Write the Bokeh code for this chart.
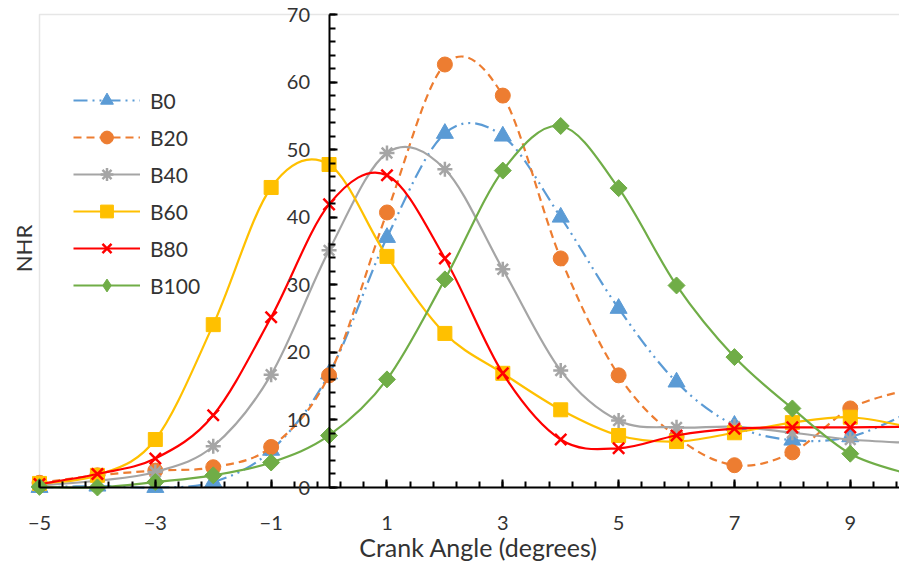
import numpy as np
from bokeh.plotting import figure
from bokeh.models import (Range1d, FixedTicker, BoxAnnotation, Legend, LegendItem, Label,
                          ColumnDataSource)
from bokeh.embed import file_html
from bokeh.resources import INLINE

# Crank angle (degrees) and net heat release for each blend
crank_angle = [-5, -4, -3, -2, -1, 0, 1, 2, 3, 4, 5, 6, 7, 8, 9, 10]

nhr_b0 = [0.0, 0.2, 0.0, 0.8, 5.5, 16.8, 37.0, 52.4, 52.0, 40.0, 26.5, 15.6, 9.2, 7.0, 7.5, 11.0]
nhr_b20 = [0.7, 1.8, 2.5, 3.0, 6.0, 16.6, 40.7, 62.6, 58.0, 33.9, 16.6, 7.5, 3.3, 5.2, 11.7, 14.5]
nhr_b40 = [0.3, 1.0, 2.3, 6.1, 16.7, 35.1, 49.5, 47.1, 32.3, 17.3, 9.9, 8.9, 9.0, 8.1, 7.1, 6.6]
nhr_b60 = [0.6, 1.8, 7.1, 24.1, 44.4, 47.8, 34.2, 22.8, 16.9, 11.5, 7.7, 6.8, 8.1, 9.6, 10.4, 9.0]
nhr_b80 = [0.5, 2.0, 4.3, 10.7, 25.2, 41.9, 46.2, 33.9, 16.9, 7.1, 5.8, 7.7, 8.7, 8.9, 8.9, 9.0]
nhr_b100 = [0.1, 0.0, 0.8, 1.8, 3.7, 7.7, 16.0, 30.8, 46.9, 53.5, 44.3, 29.9, 19.3, 11.7, 5.0, 2.0]

series_names = ["B0", "B20", "B40", "B60", "B80", "B100"]
series_values = [nhr_b0, nhr_b20, nhr_b40, nhr_b60, nhr_b80, nhr_b100]

x_ticks = [-5, -3, -1, 1, 3, 5, 7, 9]
y_ticks = [0, 10, 20, 30, 40, 50, 60, 70]

colors = ["#5B9BD5", "#ED7D31", "#A5A5A5", "#FFC000", "#FF0000", "#70AD47"]
dashes = ["14 5 2 5 2 5", "8 5", "solid", "solid", "solid", "solid"]
markers = ["triangle", "circle", "asterisk", "square", "x", "square"]
marker_sizes = [17, 15, 15, 14, 16, 12]
marker_angles = [0, 0, 0, 0, 0, np.pi / 4]
legend_markers = ["triangle", "circle", "asterisk", "square", "x", "diamond"]

FONT = "Lato"
TEXT = "#333333"

# canvas layout: the frame fills the whole canvas so both axes can sit on
# the zero lines with all their labels inside it
W, H = 899, 563
X_LEFT_PX = 39                  # pixel column of crank angle -5
X_RIGHT = 9.85                  # crank angle at the right canvas edge
Y_TOP_PX, Y_ZERO_PX = 14, 487   # pixel rows of NHR 70 and NHR 0
px_per_deg = (W - X_LEFT_PX) / (X_RIGHT + 5)
px_per_nhr = (Y_ZERO_PX - Y_TOP_PX) / 70.0
x_lo = -5 - X_LEFT_PX / px_per_deg
y_lo = -(H - Y_ZERO_PX) / px_per_nhr
y_hi = 70 + Y_TOP_PX / px_per_nhr


def smooth_segments(xs, ys):
    """Cubic Bezier pieces through the points (Catmull-Rom style smoothing)."""
    x = np.asarray(xs, float)
    y = np.asarray(ys, float)
    n = len(x)
    xp = np.concatenate([[x[0]], x, [x[-1]]])
    yp = np.concatenate([[y[0]], y, [y[-1]]])
    return dict(
        x0=x[:-1], y0=y[:-1], x1=x[1:], y1=y[1:],
        cx0=x[:-1] + (xp[2:n + 1] - xp[0:n - 1]) / 6.0,
        cy0=y[:-1] + (yp[2:n + 1] - yp[0:n - 1]) / 6.0,
        cx1=x[1:] - (xp[3:n + 2] - xp[1:n]) / 6.0,
        cy1=y[1:] - (yp[3:n + 2] - yp[1:n]) / 6.0,
    )


p = figure(width=W, height=H, x_range=Range1d(x_lo, X_RIGHT), y_range=Range1d(y_lo, y_hi),
           output_backend="svg", toolbar_location=None,
           min_border_left=0, min_border_right=0, min_border_top=0, min_border_bottom=0)
p.outline_line_color = None
p.grid.visible = False

# plot-area border (only its top and left edges fall inside the canvas)
p.add_layout(BoxAnnotation(left=-5, right=11, bottom=0, top=70, fill_alpha=0,
                           line_color="#ABABAB", line_width=1.5, level="underlay"))

items = []
for name, vals, col, dash, mk, ms, ang, lmk in zip(series_names, series_values, colors,
                                                   dashes, markers, marker_sizes,
                                                   marker_angles, legend_markers):
    seg = ColumnDataSource(smooth_segments(crank_angle, vals))
    r_line = p.bezier(x0="x0", y0="y0", x1="x1", y1="y1", cx0="cx0", cy0="cy0",
                      cx1="cx1", cy1="cy1", source=seg, line_color=col,
                      line_width=2.2, line_dash=dash)
    pts = ColumnDataSource(dict(x=crank_angle, y=vals))
    lw = 2.5 if mk in ("x", "asterisk") else 1
    r_pts = p.scatter(x="x", y="y", source=pts, marker=mk, size=ms, angle=ang,
                      fill_color=col, line_color=col, line_width=lw)
    if lmk == mk:
        key = r_pts
    else:
        # legend swatch only (the plotted points use a turned square)
        key = p.scatter(x="x", y="y", source=pts, marker=lmk, size=ms,
                        fill_color=col, line_color=col, line_width=lw, visible=False)
    items.append(LegendItem(label=name, renderers=[r_line, key]))


def style_axis(ax):
    ax.axis_line_color = "black"
    ax.axis_line_width = 2
    ax.major_tick_in = 8
    ax.major_tick_out = 0
    ax.minor_tick_in = 6
    ax.minor_tick_out = 0
    ax.major_tick_line_width = 2
    ax.minor_tick_line_width = 2
    ax.major_tick_line_color = "black"
    ax.minor_tick_line_color = "black"
    ax.major_label_text_font = FONT
    ax.major_label_text_font_size = "20px"
    ax.major_label_text_color = TEXT


# x axis along NHR = 0
xa = p.xaxis[0]
xa.fixed_location = 0
xa.bounds = (-5, 10.1)
xa.ticker = FixedTicker(ticks=x_ticks, minor_ticks=list(np.arange(-5, 10.01, 0.4)))
style_axis(xa)
xa.major_label_standoff = 28

# y axis crossing at crank angle 0
ya = p.yaxis[0]
ya.fixed_location = 0
ya.bounds = (0, 70)
ya.ticker = FixedTicker(ticks=y_ticks, minor_ticks=list(range(0, 71, 2)))
style_axis(ya)
ya.major_label_standoff = 19

# axis titles (screen offsets from the frame's bottom-left corner)
p.add_layout(Label(x=478, y=H - 546, x_units="screen", y_units="screen",
                   text="Crank Angle (degrees)", text_align="center",
                   text_baseline="alphabetic", text_font=FONT, text_font_size="25px",
                   text_color=TEXT))
p.add_layout(Label(x=23, y=H - 248, x_units="screen", y_units="screen", text="NHR",
                   angle=90, angle_units="deg", text_align="center",
                   text_baseline="alphabetic", text_font=FONT, text_font_size="22px",
                   text_color=TEXT))

legend = Legend(items=items, location=(73, 262), glyph_width=67, glyph_height=32,
                label_height=32, spacing=5, padding=0, margin=0, label_standoff=10,
                border_line_color=None, background_fill_alpha=0,
                label_text_font=FONT, label_text_font_size="21px",
                label_text_color=TEXT)
p.add_layout(legend)

open("out.html", "w").write(file_html(p, INLINE))
